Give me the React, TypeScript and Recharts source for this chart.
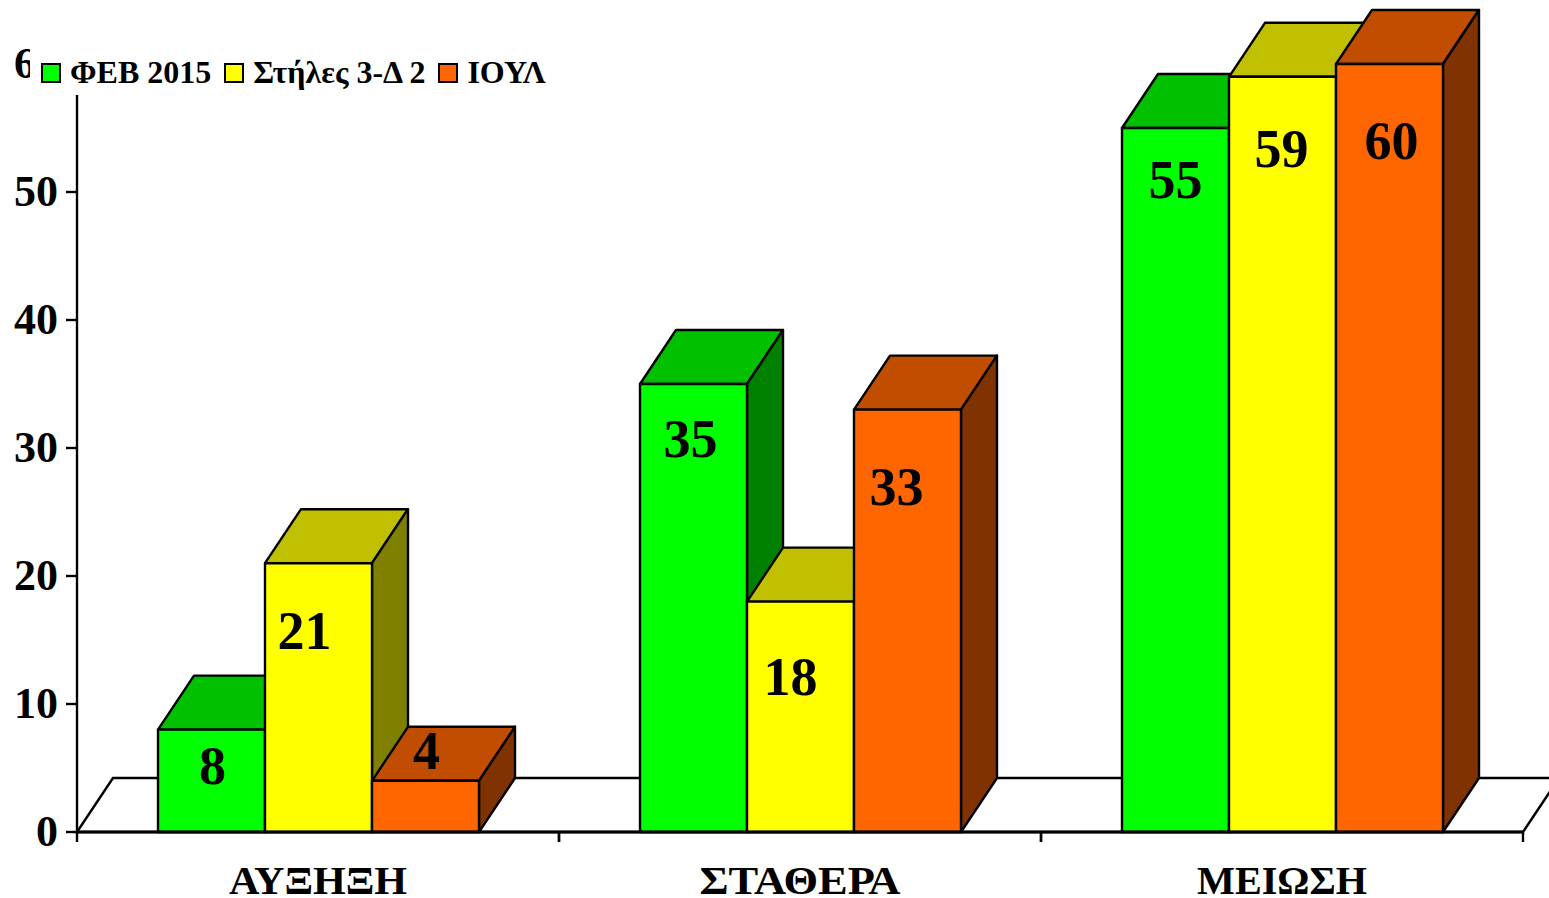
import React from "react";
import { BarChart, Bar, XAxis, YAxis, Legend, LabelList, usePlotArea } from "recharts";

const categories = ["ΑΥΞΗΞΗ", "ΣΤΑΘΕΡΑ", "ΜΕΙΩΣΗ"];
const feb2015 = [8, 35, 55];
const stiles = [21, 18, 59];
const ioul = [4, 33, 60];
const yTicks = [0, 10, 20, 30, 40, 50, 60];

const chartData = categories.map((name, i) => ({ name, feb: feb2015[i], stiles: stiles[i], ioul: ioul[i] }));

const FONT = "'Liberation Serif', 'Times New Roman', serif";
const DX = 36;
const DY = 54;
const SW = 2.4;

// hand-placed label nudges from the original slide (centre of label relative to bar centre / bar top)
const febNudge = [[1, 36], [-3, 55], [0, 52]];
const stilesNudge = [[-14, 68], [-10, 75], [-1, 72]];
const ioulNudge = [[1, -30], [-11, 77], [2, 77]];
// the original's label widths differ from what Liberation Serif sets
const categoryLabelWidths: Record<string, number> = { "ΑΥΞΗΞΗ": 178, "ΣΤΑΘΕΡΑ": 201, "ΜΕΙΩΣΗ": 170 };

function Box3D(props: any) {
  const { x, y, width, height, fill, topFill, sideFill } = props;
  const r = x + width;
  const b = y + height;
  return (
    <g stroke="#000" strokeWidth={SW} strokeLinejoin="round">
      <polygon points={`${x},${y} ${x + DX},${y - DY} ${r + DX},${y - DY} ${r},${y}`} fill={topFill} />
      <polygon points={`${r},${y} ${r + DX},${y - DY} ${r + DX},${b - DY} ${r},${b}`} fill={sideFill} />
      <rect x={x} y={y} width={width} height={height} fill={fill} />
    </g>
  );
}

function Floor() {
  const area = usePlotArea();
  if (!area) return null;
  const { x, y, width, height } = area;
  const b = y + height;
  const r = x + width;
  return (
    <polygon
      points={`${x},${b} ${x + DX},${b - DY} ${r + DX},${b - DY} ${r},${b}`}
      fill="#fff"
      stroke="#000"
      strokeWidth={SW}
    />
  );
}

function CategoryTick(props: any) {
  const { x, y, payload } = props;
  const half = 241;
  return (
    <g>
      <line x1={x - half} x2={x - half} y1={y - 8} y2={y + 2} stroke="#000" strokeWidth={SW} />
      <line x1={x + half} x2={x + half} y1={y - 8} y2={y + 2} stroke="#000" strokeWidth={SW} />
      <text
        x={x}
        y={y + 54}
        textAnchor="middle"
        fontFamily={FONT}
        fontWeight="bold"
        fontSize={41}
        fill="#000"
        textLength={categoryLabelWidths[payload.value]}
        lengthAdjust="spacingAndGlyphs"
      >
        {payload.value}
      </text>
    </g>
  );
}

function ValueTick(props: any) {
  const { x, y, payload } = props;
  return (
    <text x={x - 6} y={y + 14} textAnchor="end" fontFamily={FONT} fontWeight="bold" fontSize={44} fill="#000">
      {payload.value}
    </text>
  );
}

function makeLabel(nudges: number[][]) {
  return function ValueLabel(props: any) {
    const { x, y, width, value, index } = props;
    const [nx, ny] = nudges[index];
    return (
      <text x={x + width / 2 + nx} y={y + ny + 18} textAnchor="middle" fontFamily={FONT} fontWeight="bold" fontSize={54} fill="#000">
        {value}
      </text>
    );
  };
}

function LegendContent(props: any) {
  const { payload } = props;
  return (
    <div style={{ display: "flex", alignItems: "center", background: "#fff", height: 49, width: 525, paddingLeft: 11, paddingTop: 4, boxSizing: "border-box" }}>
      {(payload || []).map((p: any) => (
        <div key={p.value} style={{ display: "flex", alignItems: "center", marginRight: 13 }}>
          <span style={{ display: "inline-block", width: 16, height: 16, background: p.color, border: "2px solid #000", marginRight: 9 }} />
          <span style={{ fontFamily: FONT, fontWeight: "bold", fontSize: 32, color: "#000", whiteSpace: "nowrap" }}>{p.value}</span>
        </div>
      ))}
    </div>
  );
}

export default function App() {
  return (
    <div style={{ position: "absolute", left: 0, top: 0, width: 1549, height: 898, background: "#fff", overflow: "hidden" }}>
      <BarChart
        width={1549}
        height={898}
        data={chartData}
        margin={{ top: 64, right: 26, bottom: 0, left: 0 }}
        barCategoryGap={81}
        barGap={0}
      >
        <Floor />
        <XAxis
          dataKey="name"
          tick={<CategoryTick />}
          tickLine={false}
          axisLine={{ stroke: "#000", strokeWidth: 3 }}
          height={66}
          interval={0}
        />
        <YAxis
          domain={[0, 60]}
          ticks={yTicks}
          width={77}
          tick={<ValueTick />}
          tickSize={11}
          tickLine={{ stroke: "#000", strokeWidth: SW }}
          axisLine={{ stroke: "#000", strokeWidth: SW }}
        />
        <Bar dataKey="feb" name="ΦΕΒ 2015" fill="#00ff00" isAnimationActive={false}
          shape={(p: any) => <Box3D {...p} topFill="#00c000" sideFill="#008000" />}>
          <LabelList dataKey="feb" content={makeLabel(febNudge)} />
        </Bar>
        <Bar dataKey="stiles" name="Στήλες 3-Δ 2" fill="#ffff00" isAnimationActive={false}
          shape={(p: any) => <Box3D {...p} topFill="#c0c000" sideFill="#808000" />}>
          <LabelList dataKey="stiles" content={makeLabel(stilesNudge)} />
        </Bar>
        <Bar dataKey="ioul" name="ΙΟΥΛ" fill="#ff6600" isAnimationActive={false}
          shape={(p: any) => <Box3D {...p} topFill="#c04d00" sideFill="#803300" />}>
          <LabelList dataKey="ioul" content={makeLabel(ioulNudge)} />
        </Bar>
        <Legend
          layout="horizontal"
          verticalAlign="middle"
          align="center"
          itemSorter={null}
          content={<LegendContent />}
          wrapperStyle={{ left: 30, top: 46, width: 525, height: 49, margin: 0 }}
        />
      </BarChart>
    </div>
  );
}
